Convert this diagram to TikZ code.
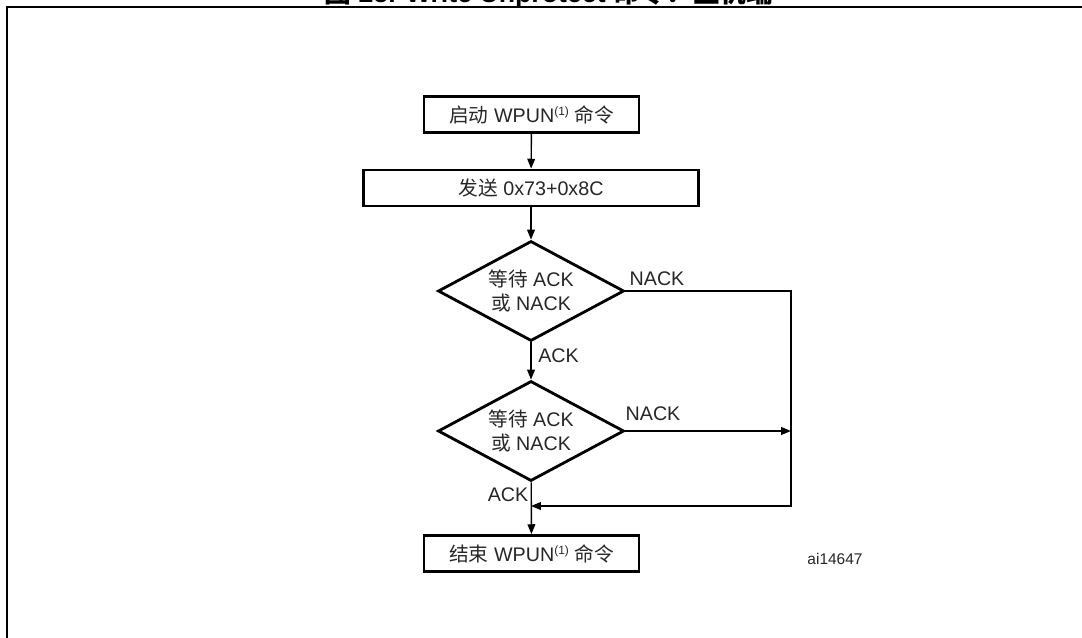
\documentclass[tikz,border=0pt]{standalone}
\usepackage{fontspec}
\setmainfont{Liberation Sans}
\newfontfamily\cjk{Noto Sans CJK SC}
\usetikzlibrary{shapes.geometric,arrows.meta}
\newcommand{\noteone}{\raisebox{0.6ex}{\fontsize{8.5}{9}\selectfont(1)}}

\begin{document}
\begin{tikzpicture}[x=0.025cm, y=-0.025cm, >={Triangle[length=7pt,width=5.5pt]},
	every node/.style={font=\fontsize{14}{17.7}\selectfont, text=black!85},
	stepbox/.style={draw, line width=2pt, minimum width=5.375cm, minimum height=0.9cm, inner sep=0pt},
	waitbox/.style={draw, diamond, line width=2pt, aspect=1.86, minimum width=4.65cm, minimum height=2.5cm, inner sep=0pt, align=center},
	flow/.style={line width=1pt}]
	\useasboundingbox (0,0) rectangle (1082,637);
	\clip (0,0) rectangle (1082,637);
	% title (cut off at the top) and page frame
	\node[anchor=base, font=\fontsize{19}{22}\selectfont\bfseries, text=black] (title) at (549,2.5)
		{{\cjk 图} 25. Write Unprotect {\cjk 命令：主机端}};
	\draw[line width=1.9pt] (7,660) -- (7,7) -- (1100,7);
	% flow steps
	\node[stepbox] (start) at (531.5,114.5) {{\cjk 启动} WPUN\noteone{} {\cjk 命令}};
	\node[stepbox, minimum width=8.375cm] (send) at (531,188) {{\cjk 发送} 0x73+0x8C};
	\node[waitbox] (wait1) at (531,291) {{\cjk 等待} ACK\\{\cjk 或} NACK};
	\node[waitbox] (wait2) at (531,431) {{\cjk 等待} ACK\\{\cjk 或} NACK};
	\node[stepbox] (stop) at (531.5,553.5) {{\cjk 结束} WPUN\noteone{} {\cjk 命令}};
	\coordinate (nack1) at (791,291);
	\coordinate (nack2) at (791,431);
	\coordinate (join) at (531,506);
	% connectors
	\draw[flow, ->] (start) -- (send);
	\draw[flow, ->] (send) -- (wait1);
	\draw[flow, ->] (wait1) -- (wait2);
	\draw[flow, ->] (wait2) -- (stop);
	\draw[flow, ->] (wait1.east) -- (nack1) |- (join);
	\draw[flow, ->] (wait2.east) -- (nack2);
	% labels
	\node (l1) at (657,279) {NACK};
	\node (l2) at (653,414) {NACK};
	\node (l3) at (558.5,356) {ACK};
	\node (l4) at (508,495) {ACK};
	\node[font=\fontsize{11}{13}\selectfont] (ref) at (835,559) {ai14647};
\end{tikzpicture}
\end{document}
